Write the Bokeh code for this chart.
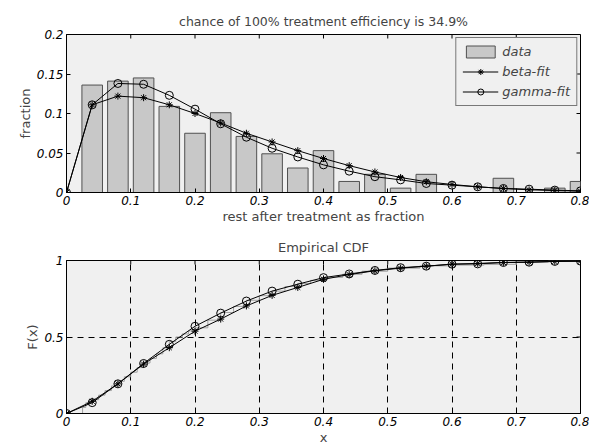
import math
from bokeh.plotting import figure
from bokeh.layouts import column
from bokeh.models import Range1d, FixedTicker, Legend, LegendItem
from bokeh.embed import file_html
from bokeh.resources import INLINE

# ---------------- data ----------------
bin_centers = [0.04, 0.08, 0.12, 0.16, 0.20, 0.24, 0.28, 0.32, 0.36, 0.40,
               0.44, 0.48, 0.52, 0.56, 0.60, 0.64, 0.68, 0.72, 0.76, 0.80]
hist_frac = [0.136, 0.141, 0.145, 0.109, 0.075, 0.101, 0.071, 0.049, 0.031, 0.053,
             0.014, 0.023, 0.0055, 0.023, 0.0, 0.0, 0.018, 0.0, 0.0055, 0.014]

fit_x = [0.0, 0.04, 0.08, 0.12, 0.16, 0.20, 0.24, 0.28, 0.32, 0.36, 0.40,
         0.44, 0.48, 0.52, 0.56, 0.60, 0.64, 0.68, 0.72, 0.76, 0.80]
beta_pdf = [0.0, 0.111, 0.122, 0.120, 0.111, 0.100, 0.088, 0.075, 0.064, 0.053, 0.043,
            0.034, 0.026, 0.019, 0.0136, 0.0102, 0.0072, 0.0051, 0.0034, 0.0025, 0.0017]
gamma_pdf = [0.0, 0.111, 0.138, 0.137, 0.123, 0.1055, 0.087, 0.070, 0.056, 0.045, 0.035,
             0.027, 0.020, 0.016, 0.0114, 0.0093, 0.0072, 0.0051, 0.0042, 0.003, 0.0021]

beta_cdf = [0.0, 0.080, 0.194, 0.323, 0.430, 0.538, 0.617, 0.703, 0.772, 0.824, 0.877,
            0.908, 0.933, 0.950, 0.963, 0.976, 0.981, 0.987, 0.989, 0.994, 0.996]
gamma_cdf = [0.0, 0.071, 0.194, 0.327, 0.452, 0.570, 0.656, 0.735, 0.800, 0.845, 0.888,
             0.912, 0.935, 0.953, 0.963, 0.976, 0.978, 0.987, 0.989, 0.994, 0.996]

ecdf_x = [0.0, 0.02, 0.025, 0.03, 0.04, 0.05, 0.06, 0.07, 0.08, 0.09, 0.10, 0.11,
          0.12, 0.13, 0.14, 0.15, 0.16, 0.17, 0.18, 0.19, 0.20, 0.22, 0.24, 0.26,
          0.28, 0.30, 0.32, 0.34, 0.36, 0.38, 0.40, 0.43, 0.46, 0.50, 0.55, 0.60,
          0.65, 0.70, 0.75, 0.80]
ecdf_y = [0.0, 0.0, 0.04, 0.07, 0.09, 0.12, 0.15, 0.18, 0.21, 0.24, 0.27, 0.30,
          0.33, 0.36, 0.39, 0.43, 0.47, 0.50, 0.52, 0.54, 0.56, 0.61, 0.66, 0.70,
          0.74, 0.77, 0.80, 0.83, 0.85, 0.87, 0.89, 0.91, 0.93, 0.95, 0.965, 0.97,
          0.975, 0.99, 0.995, 1.0]

X_MIN, X_MAX = 0.0, 0.8
Y1_MAX = 0.2
Y2_MAX = 1.0
x_ticks = [0.0, 0.1, 0.2, 0.3, 0.4, 0.5, 0.6, 0.7, 0.8]
x_tick_labels = ["0", "0.1", "0.2", "0.3", "0.4", "0.5", "0.6", "0.7", "0.8"]
y1_ticks = [0.0, 0.05, 0.1, 0.15, 0.2]
y1_tick_labels = ["0", "0.05", "0.1", "0.15", "0.2"]
y2_ticks = [0.0, 0.5, 1.0]
y2_tick_labels = ["0", "0.5", "1"]
grid_x = [0.1, 0.2, 0.3, 0.4, 0.5, 0.6, 0.7]
grid_y = [0.5]

FONT = "DejaVu Sans"
FS = "13px"
FRAME_BG = "#f0f0f0"


def style_axis(ax, ticks, labels):
    ax.ticker = FixedTicker(ticks=ticks)
    ax.major_label_overrides = {t: l for t, l in zip(ticks, labels)}
    ax.major_tick_in = 4
    ax.major_tick_out = 0
    ax.minor_tick_in = 0
    ax.minor_tick_out = 0
    ax.axis_line_color = "black"
    ax.major_tick_line_color = "black"
    ax.major_label_text_font = FONT
    ax.major_label_text_font_style = "italic"
    ax.major_label_text_color = "black"
    ax.major_label_text_font_size = "12px"
    ax.major_label_standoff = 3
    ax.axis_label_text_font = FONT
    ax.axis_label_text_font_style = "normal"
    ax.axis_label_text_font_size = FS
    ax.axis_label_standoff = 1


def make_fig(height, title, title_size, y_max, yticks, ylabels, xlabel, ylabel, top_border):
    p = figure(width=589, height=height, output_backend="svg", toolbar_location=None,
               x_range=Range1d(X_MIN, X_MAX), y_range=Range1d(0, y_max),
               min_border_left=66, min_border_right=9, min_border_top=top_border,
               min_border_bottom=0)
    p.background_fill_color = FRAME_BG
    p.border_fill_color = "white"
    p.outline_line_color = "black"
    p.outline_line_width = 1
    p.title.text = title
    p.title.align = "center"
    p.title.text_font = FONT
    p.title.text_font_style = "normal"
    p.title.text_font_size = title_size
    p.title.standoff = 12
    style_axis(p.xaxis[0], x_ticks, x_tick_labels)
    style_axis(p.yaxis[0], yticks, ylabels)
    p.xaxis[0].axis_label = xlabel
    p.yaxis[0].axis_label = ylabel
    # inward ticks on the top and right frame edges (box style)
    p.ray(x=x_ticks, y=[y_max] * len(x_ticks), length=4, length_units="screen",
          angle=-math.pi / 2, line_color="black", line_width=1)
    p.ray(x=[X_MAX] * len(yticks), y=yticks, length=4, length_units="screen",
          angle=math.pi, line_color="black", line_width=1)
    return p


# ---------------- top: histogram + pdf fits ----------------
p1 = make_fig(226, "chance of 100% treatment efficiency is 34.9%", "12.5px", Y1_MAX,
              y1_ticks, y1_tick_labels, "rest after treatment as fraction", "fraction", 34)
p1.xgrid.visible = False
p1.ygrid.visible = False

bars = p1.vbar(x=bin_centers, top=hist_frac, width=0.032, bottom=0,
               fill_color="#c8c8c8", line_color="#505050", line_width=1)
bl = p1.line(fit_x, beta_pdf, line_color="black", line_width=1)
bs = p1.scatter(fit_x, beta_pdf, marker="asterisk", size=7, line_color="black", line_width=1)
gl = p1.line(fit_x, gamma_pdf, line_color="black", line_width=1)
gs = p1.scatter(fit_x, gamma_pdf, marker="circle", size=8, fill_color=None,
                line_color="black", line_width=1)

legend = Legend(items=[LegendItem(label="data", renderers=[bars]),
                       LegendItem(label="beta-fit", renderers=[bl, bs]),
                       LegendItem(label="gamma-fit", renderers=[gl, gs])],
                location="top_right")
legend.background_fill_color = FRAME_BG
legend.background_fill_alpha = 1
legend.border_line_color = "black"
legend.border_line_width = 1
legend.label_text_font = FONT
legend.label_text_font_style = "italic"
legend.label_text_font_size = FS
legend.glyph_width = 36
legend.glyph_height = 15
legend.spacing = 5
legend.padding = 6
legend.margin = 3
legend.label_standoff = 4
p1.add_layout(legend)

# ---------------- bottom: CDF ----------------
p2 = make_fig(221, "Empirical CDF", FS, Y2_MAX, y2_ticks, y2_tick_labels, "x", "F(x)", 34)
p2.xgrid.ticker = FixedTicker(ticks=grid_x)
p2.ygrid.ticker = FixedTicker(ticks=grid_y)
for g in (p2.xgrid, p2.ygrid):
    g.grid_line_color = "black"
    g.grid_line_dash = "6 5"
    g.grid_line_width = 1
    g.grid_line_alpha = 1

p2.step(ecdf_x, ecdf_y, mode="after", line_color="#a0a0a0", line_width=1)
p2.line(fit_x, beta_cdf, line_color="black", line_width=1)
p2.scatter(fit_x, beta_cdf, marker="asterisk", size=7, line_color="black", line_width=1)
p2.line(fit_x, gamma_cdf, line_color="black", line_width=1)
p2.scatter(fit_x, gamma_cdf, marker="circle", size=8, fill_color=None,
           line_color="black", line_width=1)

layout = column(p1, p2, spacing=0)
open("out.html", "w").write(file_html(layout, INLINE))
